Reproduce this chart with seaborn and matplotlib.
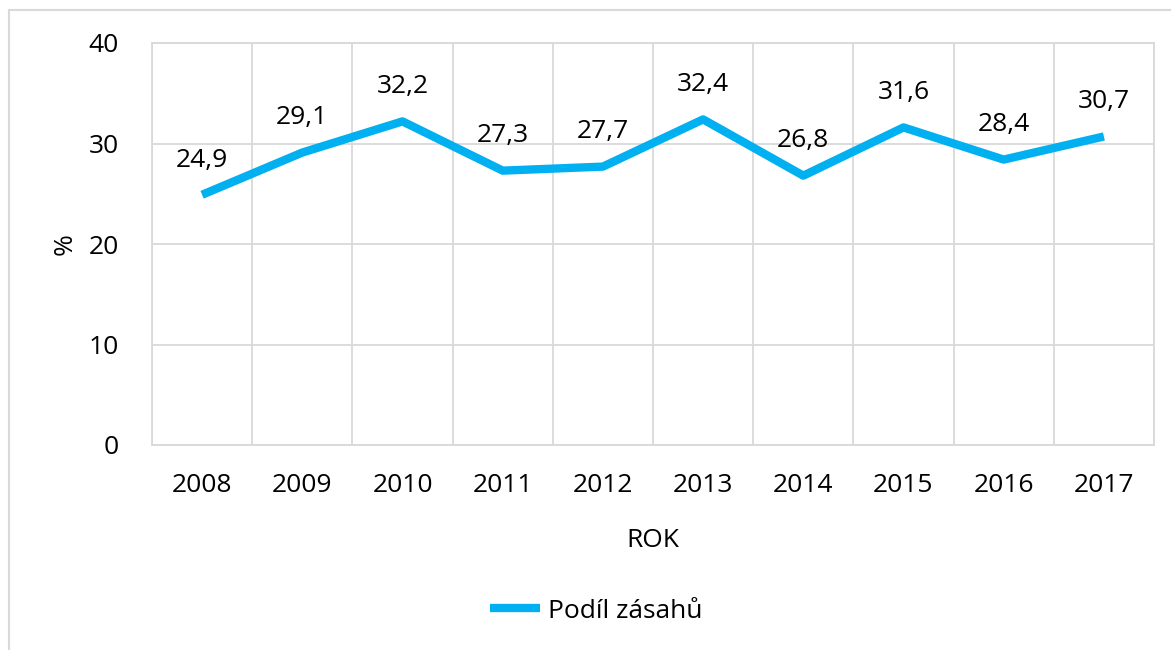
import matplotlib
matplotlib.use("Agg")
import matplotlib.pyplot as plt
import matplotlib.patches as mpatches
from matplotlib.ticker import MultipleLocator
import seaborn as sns
import pandas as pd

years = ['2008', '2009', '2010', '2011', '2012', '2013', '2014', '2015', '2016', '2017']
share = [24.9, 29.1, 32.2, 27.3, 27.7, 32.4, 26.8, 31.6, 28.4, 30.7]
series_name = 'Podíl zásahů'

df = pd.DataFrame({'ROK': years, 'share': share})

sns.set_theme(style="white")
plt.rcParams['font.family'] = ['Open Sans', 'DejaVu Sans']

line_color = '#00B0F0'
grid_color = '#D9D9D9'
fs = 19

fig = plt.figure(figsize=(11.71, 6.5), dpi=100)
ax = fig.add_axes([152 / 1171, (650 - 445) / 650, (1154 - 152) / 1171, (445 - 43) / 650])

# light outer chart border (cropped at right/bottom like the reference)
fig.patches.append(mpatches.Rectangle((9 / 1171, -0.1), 1.2, (640 / 650) + 0.1,
                                      transform=fig.transFigure, fill=False,
                                      edgecolor=grid_color, linewidth=1.5))

sns.lineplot(data=df, x='ROK', y='share', ax=ax, color=line_color, linewidth=6,
             label=series_name, sort=False, solid_capstyle='butt')

for i, v in enumerate(share):
    ax.annotate(f"{v:.1f}".replace('.', ','), (i, v), xytext=(0, 25), textcoords='offset points',
                ha='center', va='center', fontsize=fs, color='black')

ax.set_xlim(-0.5, len(years) - 0.5)
ax.set_ylim(0, 40)
ax.yaxis.set_major_locator(MultipleLocator(10))
ax.set_xticks(range(len(years)))
ax.set_xticklabels(years)
ax.set_xticks([i - 0.5 for i in range(len(years) + 1)], minor=True)

ax.grid(False)
ax.yaxis.grid(True, which='major', color=grid_color, linewidth=1.3)
ax.xaxis.grid(True, which='minor', color=grid_color, linewidth=1.3)
for s in ax.spines.values():
    s.set_color(grid_color)
    s.set_linewidth(1.3)

ax.tick_params(axis='both', which='both', length=0, labelsize=fs, colors='black')
ax.tick_params(axis='y', pad=24)
ax.tick_params(axis='x', pad=20)
ax.set_ylabel('%', fontsize=fs, labelpad=8, color='black')
ax.set_xlabel('ROK', fontsize=fs, labelpad=22, color='black')

ax.get_legend().remove()
leg = fig.legend(loc='center', bbox_to_anchor=(596 / 1171, (650 - 611) / 650), frameon=False,
                 fontsize=fs, handlelength=1.9, handletextpad=0.3, labelcolor='black')
for h in leg.get_lines():
    h.set_solid_capstyle('butt')

fig.savefig('out.png', dpi=100)
